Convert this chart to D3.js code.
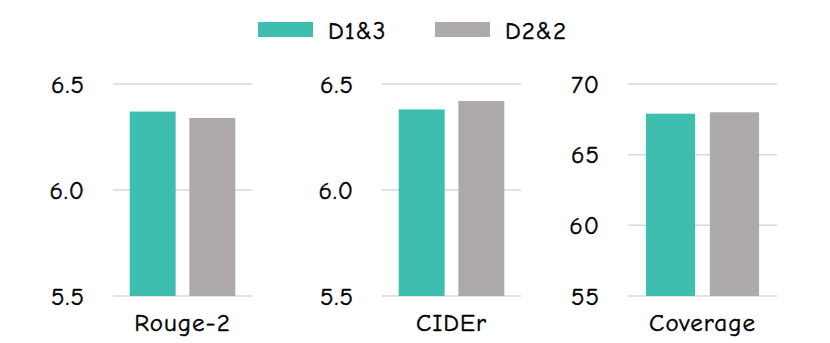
<!DOCTYPE html>
<html>
<head>
<meta charset="utf-8">
<script src="https://cdn.jsdelivr.net/npm/d3@7"></script>
<style>
  body { margin: 0; background: #fff; }
  svg text {
    font-family: "Comic Sans MS", "Comic Neue", "DejaVu Sans", sans-serif;
    fill: #000; stroke: #000; stroke-width: 0.45px;
    letter-spacing: 1px;
  }
</style>
</head>
<body>
<svg id="chart" width="830" height="343"></svg>
<script>
// data
const seriesNames = ["D1&3", "D2&2"];
const seriesColors = ["#3dbeaf", "#aeaaa9"];
const metrics = ["Rouge-2", "CIDEr", "Coverage"];
const d13Values = [6.37, 6.38, 67.9];
const d22Values = [6.34, 6.42, 68.0];
const yDomains = [[5.5, 6.5], [5.5, 6.5], [55, 70]];
const yTicks = [[5.5, 6.0, 6.5], [5.5, 6.0, 6.5], [55, 60, 65, 70]];
const tickFormats = [".1f", ".1f", "d"];

const svg = d3.select("#chart");

// panel layout (grid left/right edges)
const panels = [
    {x0: 113, x1: 252},
    {x0: 382, x1: 521},
    {x0: 628, x1: 777}
];
const yTop = 84, yBottom = 296;

panels.forEach(function (p, i) {
    const g = svg.append("g");
    const y = d3.scaleLinear().domain(yDomains[i]).range([yBottom, yTop]);
    const x = d3.scaleBand().domain(seriesNames).range([p.x0, p.x1])
        .paddingInner(0.23).paddingOuter(0.28);

    // gridlines
    g.selectAll("line.grid").data(yTicks[i]).enter().append("line")
        .attr("class", "grid")
        .attr("x1", p.x0).attr("x2", p.x1)
        .attr("y1", d => y(d)).attr("y2", d => y(d))
        .attr("stroke", "#d9d9d9").attr("stroke-width", 1.5);

    // tick labels
    const fmt = d3.format(tickFormats[i]);
    g.selectAll("text.tick").data(yTicks[i]).enter().append("text")
        .attr("class", "tick")
        .attr("x", p.x0 - 28)
        .attr("y", d => y(d))
        .attr("dy", "0.35em")
        .attr("text-anchor", "end")
        .style("font-size", "25px")
        .text(d => fmt(d));

    // bars
    const vals = [d13Values[i], d22Values[i]];
    g.selectAll("rect.bar").data(vals).enter().append("rect")
        .attr("class", "bar")
        .attr("x", (d, j) => x(seriesNames[j]))
        .attr("width", x.bandwidth())
        .attr("y", d => y(d))
        .attr("height", d => y(yDomains[i][0]) - y(d))
        .attr("fill", (d, j) => seriesColors[j]);

    // category label
    g.append("text")
        .attr("x", (p.x0 + p.x1) / 2)
        .attr("y", 322)
        .attr("dy", "0.35em")
        .attr("text-anchor", "middle")
        .style("font-size", "25px")
        .text(metrics[i]);
});

// legend
const legendX = [258, 435];
const legend = svg.append("g");
seriesNames.forEach(function (name, j) {
    legend.append("rect")
        .attr("x", legendX[j]).attr("y", 22)
        .attr("width", 55).attr("height", 15)
        .attr("fill", seriesColors[j]);
    legend.append("text")
        .attr("x", legendX[j] + 70).attr("y", 30)
        .attr("dy", "0.35em")
        .style("font-size", "25px")
        .text(name);
});
</script>
</body>
</html>
